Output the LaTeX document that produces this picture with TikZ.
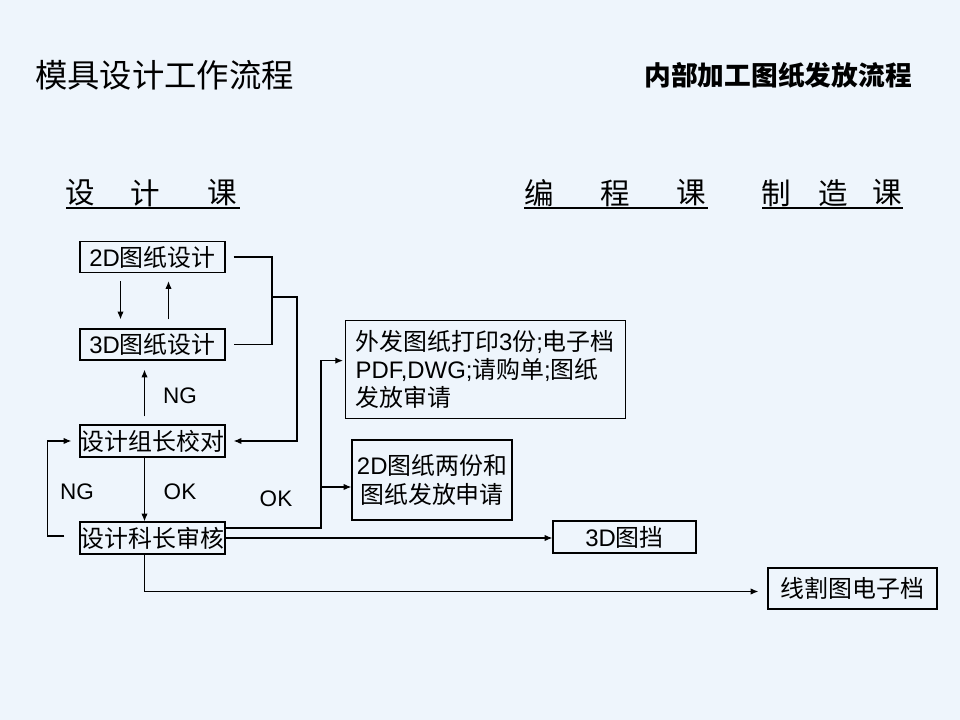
\documentclass[tikz,border=0pt]{standalone}
\usepackage{fontspec}
\setmainfont{Noto Sans CJK SC}
\newfontfamily\lat{Liberation Sans}
\usetikzlibrary{calc, arrows.meta}
\definecolor{slidebg}{RGB}{238,245,252}
\newcommand{\boxfont}{\fontsize{17}{20}\selectfont}

\tikzset{
  flowbox/.style 2 args={draw, line width=0.9pt, fill=slidebg, inner sep=0pt,
    minimum width=#1*0.025cm, minimum height=#2*0.025cm, font=\boxfont},
  link/.style={line width=0.8pt, -{Latex[length=5.5pt,width=4.5pt]}},
  wireline/.style={line width=0.8pt},
  tag/.style={font=\lat\fontsize{16}{16}\selectfont, inner sep=0pt},
  heading/.style={font=\fontsize{21}{21}\selectfont, inner sep=0pt},
  rule/.style={line width=1.8pt}
}

\begin{document}
\begin{tikzpicture}[x=0.025cm, y=-0.025cm]
  \fill[slidebg] (0,0) rectangle (960,720);
  \useasboundingbox (0,0) rectangle (960,720);

  % titles
  \node[inner sep=0pt, anchor=west, font=\fontsize{23}{23}\selectfont] (title) at (35,75) {模具设计工作流程};
  \node[inner sep=0pt, anchor=east, font=\bfseries\fontsize{19}{19}\selectfont] (subtitle) at (912,75) {内部加工图纸发放流程};

  % section headings
  \foreach \x/\c [count=\i] in {80.5/设,145/计,222/课,539.5/编,615/程,691/课,776/制,833/造,887/课}
    \node[heading] (hd\i) at (\x,193) {\c};
  \draw[rule] (66,208) -- (240,208);
  \draw[rule] (524,208) -- (708,208);
  \draw[rule] (762,208) -- (903,208);

  % boxes
  \node[flowbox={145}{31}] (d2) at (152.5,257) {{\lat 2D}图纸设计};
  \node[flowbox={145}{31}] (d3) at (152.5,344.5) {{\lat 3D}图纸设计};
  \node[flowbox={145}{32}] (check) at (152.5,441) {设计组长校对};
  \node[flowbox={145}{32}] (review) at (152.5,538) {设计科长审核};
  \node[flowbox={280}{98}, anchor=north west, text width=260*0.025cm, align=left] (extern) at (345,320)
    {外发图纸打印{\lat 3}份{\lat ;}电子档\\{\lat PDF,DWG;}请购单{\lat ;}图纸\\发放审请};
  \node[flowbox={160}{80}, align=center] (twod) at (432,480) {{\lat 2D}图纸两份和\\图纸发放申请};
  \node[flowbox={143}{32}] (arch) at (624.5,537) {{\lat 3D}图挡};
  \node[flowbox={169}{41}] (wirecut) at (852.5,588.5) {线割图电子档};

  % design loop
  \draw[link] ($(d2.south)+(-32,8)$) -- ($(d3.north)+(-32,-9)$);
  \draw[link] ($(d3.north)+(16,-9)$) -- ($(d2.south)+(16,8)$);
  \coordinate (merge) at (272,297);
  \draw[wireline] ($(d2.east)+(8,0)$) -| (merge) |- ($(d3.east)+(8,0)$);
  \draw[link] (merge) -- ++(25,0) |- ($(check.east)+(8,0)$);

  % check and review
  \draw[link] ($(check.north)+(-8,-8)$) -- ($(d3.south)+(-8,9)$);
  \node[tag] (ng1) at (180,396) {NG};
  \draw[link] ($(check.south)+(-8,0)$) -- ($(review.north)+(-8,0)$);
  \node[tag] (ok1) at (180,492) {OK};
  \draw[link] ($(review.west)+(-15,-2)$) -- ++(-17,0) |- ($(check.west)+(-8,0)$);
  \node[tag] (ng2) at (77,492) {NG};

  % release
  \coordinate (okbus) at (321,487);
  \draw[link] ($(review.east)+(0,-10)$) -| ($(extern.west)+(-24,-9)$) -- ($(extern.west)+(-2,-9)$);
  \draw[link] (okbus) -- (okbus -| twod.west);
  \node[tag] (ok2) at (276,499) {OK};
  \draw[link] (review.east) -- (review.east -| arch.west);
  \draw[link] ($(review.south)+(-8,0)$) |- ($(wirecut.west)+(-9,3)$);
\end{tikzpicture}
\end{document}
